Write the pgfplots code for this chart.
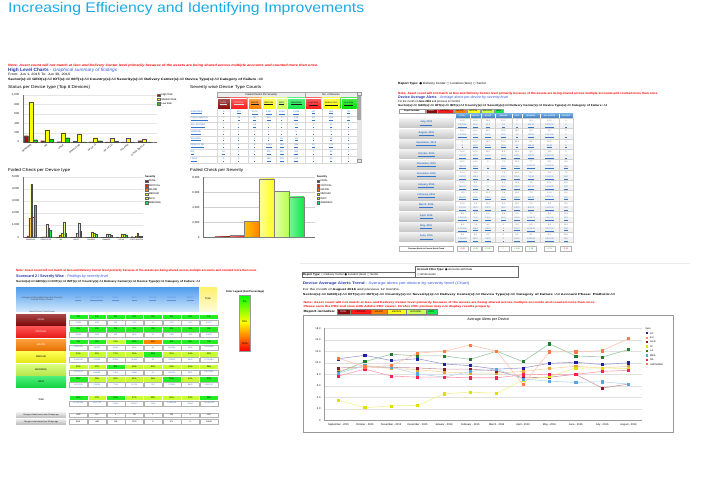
\documentclass[border=0pt]{standalone}
\usepackage{pgfplots}
\usepackage{pgfplotstable}
\pgfplotsset{compat=1.18}
\usepackage{fontspec}
\setmainfont{Liberation Sans}
\newfontfamily\djv{DejaVu Sans}
\newcommand{\fs}[1]{\fontsize{#1}{#1}\selectfont}
\newcommand{\wb}[2]{\resizebox{#1pt}{\height}{#2}}

\definecolor{ttl}{HTML}{1AAAE6}
\definecolor{fatal}{HTML}{8B0A0A}
\definecolor{critical}{HTML}{FF1A1A}
\definecolor{major}{HTML}{FF8000}
\definecolor{medium}{HTML}{FFFF1A}
\definecolor{info}{HTML}{CCFF55}
\definecolor{warning}{HTML}{11E84A}
\definecolor{hrisk}{HTML}{C00000}
\definecolor{mrisk}{HTML}{FFFF00}
\definecolor{lrisk}{HTML}{00E000}
\definecolor{hdrblue}{HTML}{2233AA}
\definecolor{subblue}{HTML}{3355DD}
\definecolor{linkblue}{HTML}{3377CC}
\definecolor{hdrA}{HTML}{6FA8DC}
\definecolor{hdrB}{HTML}{3A78C0}
\definecolor{scA}{HTML}{4C9BEF}
\definecolor{scB}{HTML}{CFE6FB}
\definecolor{scY1}{HTML}{FFF06A}
\definecolor{scY2}{HTML}{FFFBD8}
\definecolor{sg}{HTML}{22EE22}
\definecolor{sy}{HTML}{C8FF33}
\definecolor{so}{HTML}{FF8800}
\definecolor{cAP}{HTML}{1F1FA0}
\definecolor{cEU}{HTML}{E8A030}
\definecolor{cGCG}{HTML}{8B1A2A}
\definecolor{cJP}{HTML}{E0E000}
\definecolor{cLA}{HTML}{207A30}
\definecolor{cMEA}{HTML}{5AA5E0}
\definecolor{cNA}{HTML}{FF1F4F}
\definecolor{cUNK}{HTML}{FF7A40}

\pgfplotstableread{
x hi med lo
0 134 852 50
1 28 254 56
2 8 197 92
3 20 170 5
4 2 92 28
5 2 85 20
6 2 85 5
7 28 63 5
}\statusdata

\pgfplotstableread{
x fatal crit major medium info warning
0 6 114 1578 4397 1649 2638
1 0 26 56 1070 740 600
2 0 1 190 330 1290 360
3 0 1 33 330 1210 520
4 0 3 3 470 330 300
5 10 3 3 300 280 190
6 0 0 7 280 250 200
7 50 20 80 330 110 90
}\failtype

\pgfplotstableread{
x AP EU GCG JP LA MEA NA UNK
0 10.7 8.6 9.1 3.5 8.3 8.2 7.7 10.8
1 11.3 9.4 9.3 2.2 10.2 9.5 8.9 9.3
2 10.4 9.0 9.2 2.5 11.5 9.2 7.7 9.5
3 10.7 8.8 9.1 2.6 11.2 8.1 7.5 11.7
4 9.8 8.4 8.9 4.6 11.2 7.5 7.5 12.0
5 9.5 8.2 8.9 4.9 10.6 8.5 7.4 13.1
6 8.9 8.2 8.6 4.7 12.0 8.9 7.4 12.0
7 9.1 8.5 7.4 7.0 10.2 7.2 7.9 6.2
8 9.9 9.0 7.5 7.6 13.3 6.8 8.0 11.9
9 10.1 9.4 8.0 9.1 11.2 6.6 8.0 11.9
10 9.7 9.1 5.6 9.1 11.0 6.7 8.5 12.1
11 10.0 9.4 6.3 9.0 12.3 6.3 8.7 14.2
}\alerts

\pgfplotsset{
  minibar/.style={
    scale only axis, anchor=south west,
    axis x line*=bottom, axis y line*=left,
    axis line style={black!55, line width=0.3pt},
    ymajorgrids, grid style={black!10, line width=0.2pt},
    major tick length=0.8pt, tick style={black!55, line width=0.2pt},
    xtick style={draw=none},
    ymin=0, enlargelimits=false, clip=false,
    tick label style={font=\fs{2.8}},
    /pgf/number format/assume math mode=true,
    /pgf/number format/1000 sep={,},
  },
}

\begin{document}
\begin{tikzpicture}
\begin{scope}[x=1pt,y=-1pt,every node/.style={inner sep=0pt}]
\path[use as bounding box] (0,0) rectangle (712,492);

% ---------- title
\node[anchor=base west,text=ttl] at (8,12.8) {\wb{356}{\fs{14}Increasing Efficiency and Identifying Improvements}};

% ---------- top-left panel texts
\node[anchor=west,text=red] at (8,65.3) {\wb{310}{\fs{3.2}\bfseries\itshape Note: Asset count will not match at Geo and Delivery Center level primarily because of the assets are being shared across multiple accounts and counted more than once.}};
\node[anchor=west] at (8,70.4) {\wb{109}{\fs{4.6}\textbf{\color{hdrblue}High Level Charts} {\color{subblue}\itshape - Graphical summary of findings}}};
\node[anchor=west] at (8,75) {\wb{62}{\fs{3.2}From: Jun 1, 2015 To: Jun 30, 2015}};
\node[anchor=west] at (8,79.5) {\wb{255}{\fs{3.2}\textbf{Sector(s):}All \textbf{GEO(s):}All \textbf{IOT(s):}All \textbf{IMT(s):}All \textbf{Country(s):}All \textbf{Severity(s):}All \textbf{Delivery Center(s):}All \textbf{Device Type(s):}All \textbf{Category of Failure :}All}};
\node[anchor=west] at (8,87.3) {\wb{82}{\fs{4.2}Status per Device type (Top 8 Devices)}};
\node[anchor=west] at (190,87.3) {\wb{71}{\fs{4.2}Severity wise Device Type Counts}};
\node[anchor=west] at (8,170.3) {\wb{62}{\fs{4.2}Failed Check per Device type}};
\node[anchor=west] at (190,170.3) {\wb{53}{\fs{4.2}Failed Check per Severity}};

% legend chart 1
\foreach \cc/\t [count=\i] in {hrisk/High Risk, mrisk/Medium Risk, lrisk/Low Risk}
 { \pgfmathsetmacro\yy{95+(\i-1)*4.3}
   \filldraw[fill=\cc,draw=black!60,line width=0.2pt] (157.5,\yy-1.3) rectangle (160.1,\yy+1.3);
   \node[anchor=west,font=\fs{2.6}] at (161.3,\yy) {\t}; }
% severity legends
\foreach \lx in {145,316.7} {
 \node[anchor=west,font=\fs{2.6}\bfseries] at (\lx,176.7) {Severity};
 \foreach \cc/\t [count=\i] in {fatal/FATAL,critical/CRITICAL,major/MAJOR,medium/MEDIUM,info/INFO,warning/WARNING}
 { \pgfmathsetmacro\yy{181+(\i-1)*4.3}
   \filldraw[fill=\cc,draw=black!60,line width=0.2pt] (\lx,\yy-1.3) rectangle (\lx+2.6,\yy+1.3);
   \node[anchor=west,font=\fs{2.5}] at (\lx+3.6,\yy) {\t}; } }

% ---------- severity wise table
\fill[black!7] (217.3,91.7) rectangle (356.7,98);
\draw[black!35,line width=0.3pt] (217.3,91.7) rectangle (305.3,98) (305.3,91.7) rectangle (356.7,98);
\node[font=\fs{2.6}] at (261.3,94.9) {Failed Checks Per Severity};
\node[font=\fs{2.6}] at (331,94.9) {No. of Devices};
\foreach \xa/\xb/\cc/\t/\tc in {217.3/230/fatal/FATAL/white, 230/247.7/critical/CRITICAL/white, 247.7/261.7/major/MAJOR/black, 261.7/276/medium/MEDIUM/black, 276/287.3/info/INFO/black, 287.3/305.3/warning/WARNING/black, 305.3/321.7/critical/High Risk/black, 321.7/340.7/mrisk/Medium Risk/black, 340.7/356.7/lrisk/Low Risk/black}
 { \shade[top color=\cc!70!white, bottom color=\cc] (\xa,98) rectangle (\xb,109);
   \draw[white,line width=0.3pt] (\xa,98) rectangle (\xb,109);
   \node[font=\fs{2.2},text=\tc!80!gray,align=center,text width=\xb pt-\xa pt] at ({(\xa+\xb)/2},103.5) {\underline{\t}}; }
\foreach \n [count=\i] in {WINDOWS,CISCO SWITCH,SQL SERVER,VMWARE,SOLARIS,ORACLE DB,AIX,LINUX}
 { \node[anchor=west,font=\fs{2.3},text=linkblue] at (190.5,{109+(\i-0.5)*6.75}) {\underline{\n}};
   \draw[black!15,line width=0.2pt] (190,{109+\i*6.75}) -- (356.7,{109+\i*6.75}); }
\foreach \vals [count=\i] in {{6,114,{1,578},{4,397},{1,649},{2,638},137,851,39},{0,26,56,320,0,134,26,254,26},{0,1,33,0,0,15,1,16,1},{0,1,0,0,0,0,1,8,0},{0,0,0,0,16,16,0,16,0},{0,0,3,{1,063},286,388,12,170,4},{10,3,3,475,310,282,7,80,0},{0,3,7,286,278,212,3,80,1}}
 { \foreach \v [count=\k] in \vals
   { \pgfmathsetmacro\cx{{223.7,238.8,254.7,268.8,281.7,296.3,313.5,331.2,348.7}[\k-1]}
     \node[font=\fs{2.3},text=linkblue] at (\cx,{109+(\i-0.5)*6.75}) {\underline{\v}}; } }
\foreach \xx in {217.3,230,247.7,261.7,276,287.3,305.3,321.7,340.7,356.7}
 { \draw[black!15,line width=0.2pt] (\xx,109) -- (\xx,163); }
\fill[black!10] (356.7,91.7) rectangle (361.7,163);
\fill[black!35] (357.4,96) rectangle (361,120);
\draw[black!40,line width=0.2pt] (357.2,92.2) rectangle (361.2,95.2) (357.2,159.5) rectangle (361.2,162.5);

% ---------- top-right panel
\node[anchor=west] at (398,83.3) {\wb{88}{\fs{3}\textbf{Report Type:} {\djv ●} Delivery Center {\djv ○} Location (Geo) {\djv ○} Sector}};
\node[anchor=west,text=red] at (398,93.3) {\wb{260}{\fs{3}\bfseries Note: Asset count will not match at Geo and Delivery Center level primarily because of the assets are being shared across multiple accounts and counted more than once.}};
\node[anchor=west] at (398,97.5) {\wb{110}{\fs{3.6}\textbf{\color{hdrblue}Device Average Alerts} {\color{subblue}\itshape - Average alerts per device by severity level}}};
\node[anchor=west] at (398,101.7) {\wb{62}{\fs{2.8}For the month of \textbf{June 2016} and previous 12 months}};
\node[anchor=west] at (398,105.7) {\wb{209}{\fs{2.8}\textbf{Sector(s):}All \textbf{GEO(s):}All \textbf{IOT(s):}All \textbf{IMT(s):}All \textbf{Country(s):}All \textbf{Severity(s):}All \textbf{Delivery Center(s):}All \textbf{Device Type(s):}All \textbf{Category of Failure :}All}};
\draw[black!40,line width=0.2pt,fill=white] (399,109.2) rectangle (425.3,112.8);
\node[font=\fs{2}\bfseries] at (412.1,111) {Report Includes:};
\foreach \xa/\xb/\cc/\t/\tc in {425.7/436.7/fatal/FATAL/white, 436.7/453.3/critical/CRITICAL/black, 454/466/major/MAJOR/black, 466.7/480/medium/MEDIUM/black, 480.7/494/info/WARNING/black, 494.5/503/warning/INFO/black}
 { \filldraw[fill=\cc,draw=black!40,line width=0.2pt] (\xa,109.2) rectangle (\xb,112.8);
   \node[font=\fs{2},text=\tc] at ({(\xa+\xb)/2},111) {\t}; }
\shade[top color=hdrA, bottom color=hdrB] (455,114) rectangle (573,118.3);
\foreach \xa/\xb/\t in {455/470/FATAL, 470/481/CRITICAL, 481/495/MAJOR, 495/512/MEDIUM, 512/522/INFO, 522/540/WARNING, 540/559/ALL ALERTS, 559/573/DEVICES}
 { \draw[white,line width=0.2pt] (\xa,114) -- (\xa,118.3);
   \node[text=white,font=\fs{1.8}\bfseries] at ({(\xa+\xb)/2},116.2) {\t}; }
\foreach \m [count=\i] in {{July, 2015},{August, 2015},{September, 2015},{October, 2015},{November, 2015},{December, 2015},{January, 2016},{February, 2016},{March, 2016},{April, 2016},{May, 2016},{June, 2016}}
 { \pgfmathsetmacro\yt{118+(\i-1)*10.37}
   \shade[top color=black!6,bottom color=black!22] (399.3,\yt+0.7) rectangle (453.3,\yt+9.7);
   \node[text=linkblue,font=\fs{2.5}\bfseries] at (426.3,\yt+5.2) {\underline{\m}};
   \fill[black!5] (455,\yt+5.18) rectangle (573,\yt+10.37);
   \draw[black!18,line width=0.2pt] (455,\yt) rectangle (573,\yt+10.37); }
\foreach \xx in {470,481,495,512,522,540,559}
 { \draw[black!18,line width=0.2pt] (\xx,118) -- (\xx,242.4); }
\foreach \vals [count=\i] in {{10.0,10.0,10.0,10.0,0,8.4,10.0,0},{10.0,10.0,10.0,10.0,10.0,8.2,11.7,0},{0,10.0,10.0,10.0,10.0,8.1,10.0,0},{10.0,10.0,10.0,8.3,10.0,8.5,11.5,0},{10.0,10.0,0,7.5,11.1,7.7,11.1,6.0},{10.0,11.0,0,7.5,11.0,8.0,11.2,7.0},{10.0,8.4,0,8.5,10.0,7.5,10.1,8.0},{11.0,10.0,10.0,7.5,10.0,7.5,10.4,8.0},{10.0,9.9,11.0,8.5,10.0,7.5,9.8,8.0},{9.5,8.1,8.0,9.5,9.5,7.5,9.1,11.0},{8.5,7.6,8.0,0,9.0,8.2,8.6,11.0},{8.5,8.9,8.5,0,8.1,8.1,9.1,10.0}}
 { \foreach \v [count=\k] in \vals
   { \pgfmathsetmacro\cx{{462.5,475.5,488,503.5,517,531,549.5,566}[\k-1]}
     \node[font=\fs{2.1},text=black!60] at (\cx,{118+(\i-1)*10.37+2.6}) {\v}; } }
\foreach \vals [count=\i] in {{{2,232.50},50.0,12.5,0.0,0,234.00,{2,200.00},0},{{1,234.50},60.0,120.0,20.0,2.5,110.00,{1,212.00},0},{0,60.0,112.5,20.0,2.5,120.00,80.00,0},{250.00,60.0,120.5,32.0,102.5,100.00,{1,212.00},0},{360.00,121.0,0,24.0,102.5,{1,005.00},{2,124.00},152},{740.00,116.5,0,24.0,100.0,713.50,{2,160.00},152},{360.00,22.0,0,32.0,100.0,500.00,{1,460.00},152},{860.00,22.0,126.0,32.0,190.0,500.00,{2,480.00},152},{172.00,96.0,120.0,36.0,100.0,800.00,{2,120.00},152},{{1,050.00},70.0,105.0,56.0,221.0,{1,050.00},{3,410.00},152},{{1,218.00},136.0,222.0,0,102.0,{1,610.00},{4,072.00},152},{{1,050.00},131.0,216.0,0,101.0,{1,451.00},{3,405.00},152}}
 { \foreach \v [count=\k] in \vals
   { \pgfmathsetmacro\cx{{462.5,475.5,488,503.5,517,531,549.5,566}[\k-1]}
     \node[font=\fs{2.1},text=linkblue] at (\cx,{118+(\i-1)*10.37+7.8}) {\underline{\v}}; } }
\draw[black!30,line width=0.2pt,fill=white] (399.3,246) rectangle (453.3,251);
\node[font=\fs{1.9}\bfseries] at (426.3,248.5) {Previous Month to Current Month Trend};
\foreach \v/\cc [count=\k] in {-0.69/red,+1.40/green!60!black,+0.46/green!60!black,0/orange,+1.48/green!60!black,-1.16/green!60!black,-0.73/green!60!black,-1.00/red}
 { \pgfmathsetmacro\cx{{462.5,475.5,488,503.5,517,531,549.5,566}[\k-1]}
   \draw[black!30,line width=0.2pt] (\cx-5.5,246) rectangle (\cx+5.5,251);
   \node[font=\fs{2.1},text=\cc] at (\cx,248.5) {\v}; }
\draw[black!8,line width=0.4pt] (300,263) -- (690,263);

% ---------- bottom-left scorecard
\node[anchor=west,text=red] at (16,271) {\wb{241}{\fs{3}\bfseries Note: Asset count will not match at Geo and Delivery Center level primarily because of the assets are being shared across multiple accounts and counted more than once.}};
\node[anchor=west] at (16,276.5) {\wb{92}{\fs{3.8}\textbf{\color{hdrblue}Scorecard 2 / Severity Wise} {\color{subblue}\itshape - Findings by severity level}}};
\node[anchor=west] at (16,281.5) {\wb{184}{\fs{2.8}\textbf{Sector(s):}All \textbf{GEO(s):}All \textbf{IOT(s):}All \textbf{IMT(s):}All \textbf{Country(s):}All \textbf{Delivery Center(s):}All \textbf{Device Type(s):}All \textbf{Category of Failure :}All}};
\shade[top color=scA, bottom color=scB] (16,287) rectangle (199,311);
\shade[top color=scY1, bottom color=scY2] (199,287) rectangle (216.5,311);
\node[align=center,font=\fs{2.2},text=black!70] at (42,299) {Average (Unfavorable Execution Percent)\\Passed Policy Checks};
\foreach \t [count=\k] in {ACCL,ACCL/ECCA,EMEA,IMIA,TSLAB,RAGAM,JAPAN}
 { \node[font=\fs{2.3},text=linkblue!80!white] at ({78.2+(\k-1)*18.66},299) {\underline{\t}}; }
\node[font=\fs{2.5}] at (207.8,299) {Total};
\node[font=\fs{2},text=black!70] at (42,312.2) {Failed Checks / Total Checks};
\foreach \cc/\t/\tc [count=\i] in {fatal/FATAL/white, critical/CRITICAL/white, major/MAJOR/white, medium/MEDIUM/black, info/WARNING/black, warning/INFO/black}
 { \pgfmathsetmacro\yb{314+(\i-1)*12.5}
   \shade[top color=\cc!75!white, bottom color=\cc!90!black] (16,\yb) rectangle (66,\yb+11.3);
   \node[text=\tc,font=\fs{2.4}] at (41,\yb+5.6) {\t}; }
\node[font=\fs{2.6}] at (41,399.5) {Total};
\foreach \row [count=\i] in {{sg/1\%,sg/1\%,sg/0\%,sg/0\%,sg/0\%,sg/0\%,sg/0\%,sg/1\%},{sg/0\%,sg/1\%,sg/0\%,sg/1\%,sg/0\%,sg/0\%,sg/1\%,sg/0\%},{sg/7\%,sg/6\%,sy/21\%,sg/10\%,so/45\%,sg/5\%,sg/6\%,sg/7\%},{sy/33\%,sy/31\%,sy/27\%,sy/35\%,sg/10\%,sy/30\%,sy/34\%,sy/32\%},{sy/29\%,sy/27\%,sg/8\%,sy/26\%,sy/30\%,sy/31\%,sy/29\%,sy/28\%},{sg/11\%,sy/22\%,sy/26\%,sy/31\%,sy/26\%,sg/16\%,sy/33\%,sg/17\%},{sg/15\%,sy/27\%,sg/16\%,sy/27\%,sy/29\%,sy/25\%,sy/33\%,sg/18\%}}
 { \pgfmathsetmacro\yb{ifthenelse(\i<7,314+(\i-1)*12.5,395)}
   \foreach \cc/\tt [count=\k] in \row
   { \pgfmathsetmacro\xa{69+(\k-1)*18.66}
     \filldraw[fill=\cc,draw=white,line width=0.3pt] (\xa,\yb) rectangle (\xa+18.66,\yb+5.3);
     \node[font=\fs{2.2}] at (\xa+9.33,\yb+2.65) {\tt};
     \draw[black!30,line width=0.2pt] (\xa+0.3,\yb+5.8) rectangle (\xa+18.36,\yb+11); } }
\foreach \row [count=\i] in {{22968,4212,649,952,52,4102,552,37487},{16084,3623,482,1826,52,2285,468,24820},{{1,962,035},140747,8236,9160,60,182138,2228,{2,304,604}},{{4,346,038},511286,47562,86258,18,736395,8823,{5,736,380}},{{4,025,512},259285,4128,23887,64,648134,9621,{5,070,631}},{{1,857,582},208126,7130,26728,326,272985,8640,{2,381,517}},{{12,238,069},{1,047,761},72156,150837,1142,{1,858,858},20362,{15,388,439}}}
 { \pgfmathsetmacro\yb{ifthenelse(\i<7,314+(\i-1)*12.5,395)}
   \foreach \v [count=\k] in \row
   { \pgfmathsetmacro\xa{69+(\k-1)*18.66}
     \node[font=\fs{2},text=linkblue] at (\xa+9.33,\yb+8.4) {\v}; } }
\foreach \t/\yy/\vals in {Change in failed checks from 28 days ago/412.7/{+282,212,9,111,1,223,4,1437},Change in total checks from 28 days ago/419.3/{8181,+882,138,1323,8,971,4,12189}}
 { \shade[top color=black!8,bottom color=black!25] (16,\yy) rectangle (66,\yy+4.8);
   \node[font=\fs{1.9}] at (41,\yy+2.4) {\t};
   \foreach \v [count=\k] in \vals
   { \pgfmathsetmacro\xa{69+(\k-1)*18.66}
     \draw[black!30,line width=0.2pt] (\xa+0.3,\yy) rectangle (\xa+18.36,\yy+4.8);
     \node[font=\fs{2}] at (\xa+9.33,\yy+2.4) {\v}; } }
% colour legend
\node[font=\fs{2.6}\bfseries] at (245,291.5) {Color Legend (Fail Percentage)};
\shade[top color=green, bottom color=yellow] (239.3,295) rectangle (250,322);
\shade[top color=yellow, middle color=orange, bottom color=red] (239.3,322) rectangle (250,350.7);
\draw[black!40,line width=0.2pt] (239.3,295) rectangle (250,350.7);
\node[font=\fs{2.5}] at (244.7,302) {0\%};
\node[font=\fs{2.5}] at (244.7,322) {50\%};
\node[font=\fs{2.5}] at (244.7,344) {100\%};

% ---------- bottom-right panel
\draw[black!60,line width=0.3pt] (415,266) rectangle (518.3,277.5);
\node[anchor=west] at (417,269.3) {\fs{2.8}\textbf{Account Filter Type:} {\djv ●} Accounts with Data};
\node[anchor=west] at (417,274.6) {\fs{2.8}{\djv ○} All Accounts};
\draw[black!60,line width=0.3pt] (301.7,272.3) rectangle (415,277.5);
\node[anchor=west] at (303,274.9) {\fs{2.8}\textbf{Report Type:} {\djv ○} Delivery Center {\djv ●} Location (Geo) {\djv ○} Sector};
\node[anchor=west] at (302.7,284) {\wb{166.6}{\fs{3.6}\textbf{\color{hdrblue}Device Average Alerts Trend} {\color{subblue}- Average alerts per device by severity level (Chart)}}};
\node[anchor=west] at (302.7,289.3) {\wb{97}{\fs{2.8}For the month of \textbf{August 2016} and previous 12 months.}};
\node[anchor=west] at (302.7,294.3) {\wb{312}{\fs{2.8}\textbf{Sector(s):}All \textbf{GEO(s):}All \textbf{IOT(s):}All \textbf{IMT(s):}All \textbf{Country(s):}All \textbf{Severity(s):}All \textbf{Delivery Center(s):}All \textbf{Device Type(s):}All \textbf{Category of Failure :}All \textbf{Account Phase: Platform:}All}};
\node[anchor=west,text=red] at (303.3,302.3) {\wb{292}{\fs{2.8}\bfseries Note: Asset count will not match at Geo and Delivery Center level primarily because of the assets are being shared across multiple accounts and counted more than once.}};
\node[anchor=west,text=red] at (303.3,306.7) {\wb{187}{\fs{2.8}\bfseries Please save the PDF and view with Adobe PDF viewer. Firefox PDF preview may not display results properly.}};
\node[anchor=west] at (303.3,311.4) {\wb{32}{\fs{3}\bfseries Report includes:}};
\foreach \xa/\xb/\cc/\t/\tc in {336.7/350/fatal/FATAL/white, 350/370.7/critical/CRITICAL/black, 370.7/387.3/major/MAJOR/black, 387.3/406/medium/MEDIUM/black, 406/426/info/WARNING/black, 426/436.7/warning/INFO/black}
 { \filldraw[fill=\cc,draw=black!50,line width=0.2pt] (\xa,309.3) rectangle (\xb,313.6);
   \node[font=\fs{2.3},text=\tc] at ({(\xa+\xb)/2},311.45) {\t}; }
\draw[black!40,line width=0.8pt] (303.3,315.5) rectangle (673.3,432.3);
\node[font=\fs{3.6}] at (488.3,320) {Average Alerts per Device};
\node[anchor=west,font=\fs{2.6}] at (645.5,328.6) {Geo};
\foreach \cc/\t [count=\i] in {cAP/AP,cEU/EU,cGCG/GCG,cJP/JP,cLA/LA,cMEA/MEA,cNA/NA,cUNK/UNKNOWN}
 { \pgfmathsetmacro\yy{333.3+(\i-1)*4.42}
   \fill[\cc] (645.8,\yy-1.1) rectangle (648,\yy+1.1);
   \node[anchor=west,font=\fs{2.4}] at (650,\yy) {\t}; }
\end{scope}

% ========== chart 1: status per device type
\begin{axis}[minibar, at={(22.7pt,-142pt)}, width=134.3pt, height=47pt,
  xmin=-0.5, xmax=7.8, ymax=1000, ytick={0,200,...,1000},
  xtick={0,...,7},
  xticklabels={WINDOWS,AIX,LINUX,ORACLE DB,HP-UX 11,HP-UX 11i,SOLARIS,CISCO SWITCH},
  xticklabel style={rotate=40, anchor=north east, font=\fs{2.3}, inner sep=0.6pt},
  ybar=0.3pt, bar width=4pt]
\addplot[draw=black!70, line width=0.2pt, fill=hrisk] table[x=x,y=hi]{\statusdata};
\addplot[draw=black!70, line width=0.2pt, fill=mrisk] table[x=x,y=med]{\statusdata};
\addplot[draw=black!70, line width=0.2pt, fill=lrisk] table[x=x,y=lo]{\statusdata};
\end{axis}

% ========== chart 2: failed check per device type
\begin{axis}[minibar, at={(22.7pt,-237.3pt)}, width=120.3pt, height=60.6pt,
  xmin=-0.53, xmax=7.42, ymax=5000, ytick={0,1000,...,5000},
  xtick={0,...,7},
  xticklabels={WINDOWS,ORACLE DB,AIX,LINUX,SOLARIS,VMWARE,HP-UX,CISCO SWITCH},
  xticklabel style={font=\fs{1.8}, inner sep=0.8pt},
  ybar=0pt, bar width=1.8pt]
\addplot[draw=black!70, line width=0.15pt, fill=fatal] table[x=x,y=fatal]{\failtype};
\addplot[draw=black!70, line width=0.15pt, fill=critical] table[x=x,y=crit]{\failtype};
\addplot[draw=black!70, line width=0.15pt, fill=major] table[x=x,y=major]{\failtype};
\addplot[draw=black!70, line width=0.15pt, fill=medium] table[x=x,y=medium]{\failtype};
\addplot[draw=black!70, line width=0.15pt, fill=info] table[x=x,y=info]{\failtype};
\addplot[draw=black!70, line width=0.15pt, fill=warning] table[x=x,y=warning]{\failtype};
\end{axis}

% ========== chart 3: failed check per severity
\begin{axis}[minibar, at={(203pt,-237.3pt)}, width=112pt, height=60pt,
  xmin=-1.31, xmax=6.26, ymax=8000, ytick={0,2000,...,8000}, xtick=\empty,
  grid style={black!18, line width=0.3pt}]
\addplot[ybar, bar width=14.8pt, bar shift=0pt, draw=black!50, line width=0.3pt, left color=fatal!60!white, right color=fatal] coordinates {(0,60)};
\addplot[ybar, bar width=14.8pt, bar shift=0pt, draw=black!50, line width=0.3pt, left color=critical!60!white, right color=critical] coordinates {(1,270)};
\addplot[ybar, bar width=14.8pt, bar shift=0pt, draw=black!50, line width=0.3pt, left color=major!50!yellow, right color=major] coordinates {(2,2090)};
\addplot[ybar, bar width=14.8pt, bar shift=0pt, draw=black!50, line width=0.3pt, left color=medium!45!white, right color=medium] coordinates {(3,7780)};
\addplot[ybar, bar width=14.8pt, bar shift=0pt, draw=black!50, line width=0.3pt, left color=info!50!white, right color=info!90!green] coordinates {(4,6130)};
\addplot[ybar, bar width=14.8pt, bar shift=0pt, draw=black!50, line width=0.3pt, left color=warning!55!white, right color=warning] coordinates {(5,5420)};
\end{axis}

% ========== line chart: average alerts per device
\begin{axis}[scale only axis, anchor=south west, at={(324pt,-420.3pt)}, width=317.7pt, height=92pt,
  xmin=-0.55, xmax=11.5, ymin=0, ymax=16,
  ytick={0,2,...,16}, yticklabels={0,2.0,4.0,6.0,8.0,10.0,12.0,14.0,16.0},
  xtick={0,...,11},
  xticklabels={September - 2015,October - 2015,November - 2015,December - 2015,January - 2016,February - 2016,March - 2016,April - 2016,May - 2016,June - 2016,July - 2016,August - 2016},
  tick label style={font=\fs{2.6}},
  /pgf/number format/assume math mode=true,
  ymajorgrids, grid style={black!12, line width=0.3pt},
  axis x line*=bottom, axis y line*=left,
  axis line style={black!40, line width=0.3pt}, major tick length=0pt, clip=false]
\addplot[color=cAP!45!white, line width=0.6pt, mark=square*, mark size=1.1pt, mark options={fill=cAP, draw=cAP}] table[x=x,y=AP]{\alerts};
\addplot[color=cEU!45!white, line width=0.6pt, mark=square*, mark size=1.1pt, mark options={fill=cEU, draw=cEU}] table[x=x,y=EU]{\alerts};
\addplot[color=cGCG!45!white, line width=0.6pt, mark=square*, mark size=1.1pt, mark options={fill=cGCG, draw=cGCG}] table[x=x,y=GCG]{\alerts};
\addplot[color=cJP!45!white, line width=0.6pt, mark=square*, mark size=1.1pt, mark options={fill=cJP, draw=cJP}] table[x=x,y=JP]{\alerts};
\addplot[color=cLA!45!white, line width=0.6pt, mark=square*, mark size=1.1pt, mark options={fill=cLA, draw=cLA}] table[x=x,y=LA]{\alerts};
\addplot[color=cMEA!45!white, line width=0.6pt, mark=square*, mark size=1.1pt, mark options={fill=cMEA, draw=cMEA}] table[x=x,y=MEA]{\alerts};
\addplot[color=cNA!45!white, line width=0.6pt, mark=square*, mark size=1.1pt, mark options={fill=cNA, draw=cNA}] table[x=x,y=NA]{\alerts};
\addplot[color=cUNK!45!white, line width=0.6pt, mark=square*, mark size=1.1pt, mark options={fill=cUNK, draw=cUNK}] table[x=x,y=UNK]{\alerts};
\end{axis}
\end{tikzpicture}
\end{document}
